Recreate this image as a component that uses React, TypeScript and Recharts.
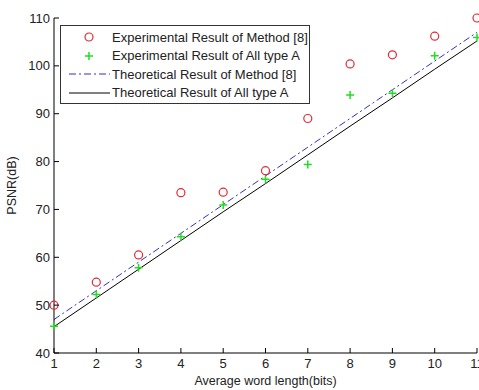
import {
    ComposedChart,
    Line,
    Scatter,
    XAxis,
    YAxis,
} from "recharts";

const wordLengths = [1, 2, 3, 4, 5, 6, 7, 8, 9, 10, 11];
const methodExperimental = [50, 54.8, 60.5, 73.5, 73.6, 78.1, 89, 100.4, 102.3, 106.2, 110];
const allTypeAExperimental = [45.6, 52.2, 57.8, 64.3, 70.9, 76.3, 79.4, 93.9, 94.3, 102.1, 105.9];
const methodTheoretical = [47, 53, 59, 65, 71, 77, 83, 89, 95, 101, 107];
const allTypeATheoretical = [45.5, 51.5, 57.5, 63.5, 69.5, 75.4, 81.4, 87.4, 93.3, 99.3, 105.2];

const xTicks = [1, 2, 3, 4, 5, 6, 7, 8, 9, 10, 11];
const yTicks = [40, 50, 60, 70, 80, 90, 100, 110];

const legendLabels = [
    "Experimental Result of Method [8]",
    "Experimental Result of All type A",
    "Theoretical Result of Method [8]",
    "Theoretical Result of All type A",
];

const FONT = "'Liberation Sans', Arial, sans-serif";
const RED = "#e02a36";
const GREEN = "#22dd22";
const BLUE = "#3030c8";
const TICK = 5;

const data = wordLengths.map((x, i) => ({
    x,
    methodExp: methodExperimental[i],
    allAExp: allTypeAExperimental[i],
    methodTh: methodTheoretical[i],
    allATh: allTypeATheoretical[i],
}));

function BottomTick({ x, y, payload }: any) {
    return (
        <g>
            <line x1={x} y1={y} x2={x} y2={y - TICK} stroke="#000" />
            <text x={x} y={y + 15} textAnchor="middle" fontSize={13} fill="#222" fontFamily={FONT}>
                {payload.value}
            </text>
        </g>
    );
}

function LeftTick({ x, y, payload }: any) {
    return (
        <g>
            <line x1={x} y1={y} x2={x + TICK} y2={y} stroke="#000" />
            <text x={x - 4} y={y + 4.5} textAnchor="end" fontSize={13} fill="#222" fontFamily={FONT}>
                {payload.value}
            </text>
        </g>
    );
}

function TopTick({ x, y }: any) {
    return <line x1={x} y1={y} x2={x} y2={y + TICK} stroke="#000" />;
}

function RightTick({ x, y }: any) {
    return <line x1={x} y1={y} x2={x - TICK} y2={y} stroke="#000" />;
}

function YLabel({ viewBox }: any) {
    const cx = 12;
    const cy = viewBox ? viewBox.y + viewBox.height / 2 : 185;
    return (
        <text
            x={cx}
            y={cy}
            transform={`rotate(-90 ${cx} ${cy})`}
            textAnchor="middle"
            dominantBaseline="central"
            fontSize={12.5}
            fill="#222"
            fontFamily={FONT}
        >
            PSNR(dB)
        </text>
    );
}

const circleShape = (p: any) => (
    <circle cx={p.cx} cy={p.cy} r={4} fill="none" stroke={RED} strokeWidth={1.2} />
);

const plusShape = (p: any) => (
    <path
        d={`M${p.cx - 4},${p.cy}H${p.cx + 4}M${p.cx},${p.cy - 4}V${p.cy + 4}`}
        stroke={GREEN}
        strokeWidth={1.5}
    />
);

function LegendBox() {
    const markers = [
        <circle key="c" cx={21} cy={9} r={4} fill="none" stroke={RED} strokeWidth={1.2} />,
        <path key="p" d="M17,9H25M21,5V13" stroke={GREEN} strokeWidth={1.5} />,
        <line key="b" x1={1} y1={9} x2={42} y2={9} stroke={BLUE} strokeDasharray="7 3 2 3" />,
        <line key="k" x1={1} y1={9} x2={42} y2={9} stroke="#000" />,
    ];
    return (
        <div
            style={{
                position: "absolute",
                left: 60,
                top: 25,
                width: 248,
                height: 77,
                border: "1px solid #333",
                background: "#fff",
                fontFamily: FONT,
                fontSize: 13,
                color: "#222",
            }}
        >
            {legendLabels.map((label, i) => (
                <div
                    key={label}
                    style={{
                        position: "absolute",
                        left: 7,
                        top: 2 + i * 18.5,
                        height: 18,
                        display: "flex",
                        alignItems: "center",
                        whiteSpace: "nowrap",
                    }}
                >
                    <svg width={44} height={18}>
                        {markers[i]}
                    </svg>
                    <span>{label}</span>
                </div>
            ))}
        </div>
    );
}

export default function App() {
    return (
        <div style={{ position: "absolute", left: 0, top: 0, width: 479, height: 390, background: "#fff" }}>
            <ComposedChart
                width={479}
                height={390}
                data={data}
                margin={{ top: 18, right: 2, bottom: 0, left: 0 }}
            >
                <XAxis
                    dataKey="x"
                    type="number"
                    domain={[1, 11]}
                    ticks={xTicks}
                    height={37}
                    tickSize={0}
                    tickMargin={0}
                    tickLine={false}
                    tick={<BottomTick />}
                    axisLine={{ stroke: "#000" }}
                    interval={0}
                    label={{
                        value: "Average word length(bits)",
                        position: "insideBottom",
                        offset: 5,
                        fontSize: 12.5,
                        fill: "#222",
                        fontFamily: FONT,
                    }}
                />
                <XAxis
                    xAxisId="top"
                    orientation="top"
                    dataKey="x"
                    type="number"
                    domain={[1, 11]}
                    ticks={xTicks}
                    height={0}
                    tickSize={0}
                    tickMargin={0}
                    tickLine={false}
                    tick={<TopTick />}
                    axisLine={{ stroke: "#000" }}
                    interval={0}
                />
                <YAxis
                    type="number"
                    domain={[40, 110]}
                    ticks={yTicks}
                    width={54}
                    tickSize={0}
                    tickMargin={0}
                    tickLine={false}
                    tick={<LeftTick />}
                    axisLine={{ stroke: "#000" }}
                    interval={0}
                    label={<YLabel />}
                />
                <YAxis
                    yAxisId="right"
                    orientation="right"
                    type="number"
                    domain={[40, 110]}
                    ticks={yTicks}
                    width={0}
                    tickSize={0}
                    tickMargin={0}
                    tickLine={false}
                    tick={<RightTick />}
                    axisLine={{ stroke: "#000" }}
                    interval={0}
                />
                <Line
                    dataKey="methodTh"
                    type="linear"
                    stroke={BLUE}
                    strokeWidth={1}
                    strokeDasharray="7 3 2 3"
                    dot={false}
                    isAnimationActive={false}
                />
                <Line
                    dataKey="allATh"
                    type="linear"
                    stroke="#000"
                    strokeWidth={1}
                    dot={false}
                    isAnimationActive={false}
                />
                <Scatter dataKey="methodExp" shape={circleShape} isAnimationActive={false} />
                <Scatter dataKey="allAExp" shape={plusShape} isAnimationActive={false} />
            </ComposedChart>
            <LegendBox />
        </div>
    );
}
